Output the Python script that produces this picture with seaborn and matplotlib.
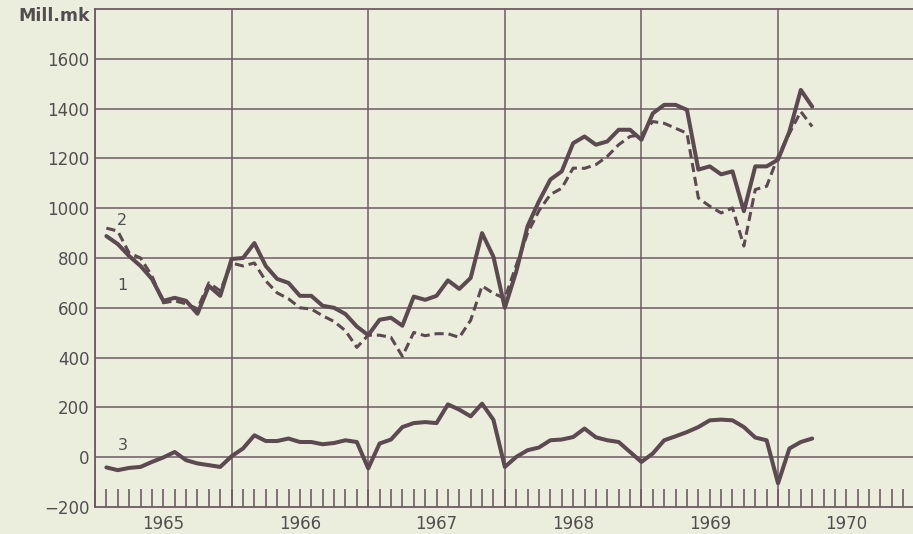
import numpy as np
import pandas as pd
import seaborn as sns
import matplotlib.pyplot as plt
from matplotlib.ticker import MultipleLocator

sns.set_style("white")
plt.rcParams["font.family"] = ["DejaVu Sans"]

# monthly values, Feb 1965 .. Apr 1970 (mill. mk)
series1 = [888, 856, 808, 768, 716, 628, 640, 628, 576, 688, 648, 796,
           800, 860, 768, 716, 700, 648, 648, 608, 600, 575, 525, 490,
           552, 560, 528, 645, 632, 648, 710, 676, 720, 900, 805, 600,
           745, 928, 1028, 1115, 1148, 1261, 1288, 1255, 1268, 1315, 1315, 1275,
           1381, 1415, 1415, 1395, 1155, 1168, 1136, 1148, 988, 1168, 1168, 1195,
           1308, 1475, 1408]
series2 = [920, 908, 820, 800, 728, 620, 628, 616, 596, 700, 668, 780,
           768, 780, 708, 660, 636, 600, 595, 568, 545, 508, 441, 490,
           490, 481, 405, 501, 488, 496, 496, 481, 550, 688, 658, 638,
           770, 900, 990, 1055, 1080, 1161, 1160, 1175, 1208, 1255, 1288, 1295,
           1348, 1341, 1321, 1301, 1041, 1008, 981, 1001, 848, 1075, 1088, 1208,
           1301, 1388, 1328]
series3 = [-41, -52, -43, -39, -19, -1, 21, -12, -25, -32, -39, 4,
           35, 88, 65, 65, 75, 61, 61, 52, 57, 68, 61, -45,
           55, 71, 121, 137, 141, 137, 212, 191, 164, 215, 150, -39,
           1, 28, 39, 68, 71, 81, 115, 80, 68, 61, 21, -19,
           15, 68, 84, 101, 121, 148, 151, 148, 121, 79, 68, -105,
           35, 61, 75]
years = [1965, 1966, 1967, 1968, 1969, 1970]

t = 1965 + np.arange(1, len(series1) + 1) / 12
df = pd.DataFrame({"t": t, "s1": series1, "s2": series2, "s3": series3})

bg = "#eceedd"
ink = "#5b4a50"
grid = "#6e5a63"
txt = "#524e4f"

fig = plt.figure(figsize=(9.13, 5.34), dpi=100, facecolor=bg)
ax = fig.add_axes([95 / 913, 27 / 534, 818 / 913, 498 / 534])
ax.set_facecolor(bg)

sns.lineplot(data=df, x="t", y="s1", ax=ax, color=ink, lw=2.9, zorder=3)
sns.lineplot(data=df, x="t", y="s2", ax=ax, color=ink, lw=2.2,
             dashes=False, zorder=3).lines[-1].set_dashes((3, 1.6))
sns.lineplot(data=df, x="t", y="s3", ax=ax, color=ink, lw=2.9, zorder=3)

ax.set_xlim(1965, 1970.988)
ax.set_ylim(-200, 1800)

# grid
for y in range(0, 1800, 200):
    ax.axhline(y, color=grid, lw=1.1, zorder=1)
for yr in years:
    ax.axvline(yr, color=grid, lw=1.1, zorder=1)

for s in ["left", "top", "bottom"]:
    ax.spines[s].set_color(grid)
    ax.spines[s].set_linewidth(1.3)
ax.spines["right"].set_visible(False)

ax.set_yticks(range(-200, 1700, 200))
ax.set_yticklabels([f"{v:d}".replace("-", "\u2212") for v in range(-200, 1700, 200)])
ax.set_xticks([y + 0.5 for y in years])
ax.set_xticklabels([str(y) for y in years])
ax.xaxis.set_minor_locator(MultipleLocator(1 / 12))
ax.xaxis.remove_overlapping_locs = False
ax.tick_params(axis="x", which="major", length=0, pad=6, labelsize=12, labelcolor=txt)
ax.tick_params(axis="x", which="minor", direction="in", length=13, width=1.2,
               color=grid, bottom=True)
ax.tick_params(axis="y", length=0, pad=4, labelsize=12, labelcolor=txt)
ax.set_xlabel("")
ax.set_ylabel("")

ax.text(1965.2, 952, "2", fontsize=11.5, color=txt, ha="center", va="center")
ax.text(1965.2, 690, "1", fontsize=11.5, color=txt, ha="center", va="center")
ax.text(1965.2, 48, "3", fontsize=11.5, color=txt, ha="center", va="center")
fig.text(90 / 913, 1 - 16 / 534, "Mill.mk", fontsize=12.5, fontweight="bold",
         color=txt, ha="right", va="center")

fig.savefig("out.png", dpi=100, facecolor=bg)
